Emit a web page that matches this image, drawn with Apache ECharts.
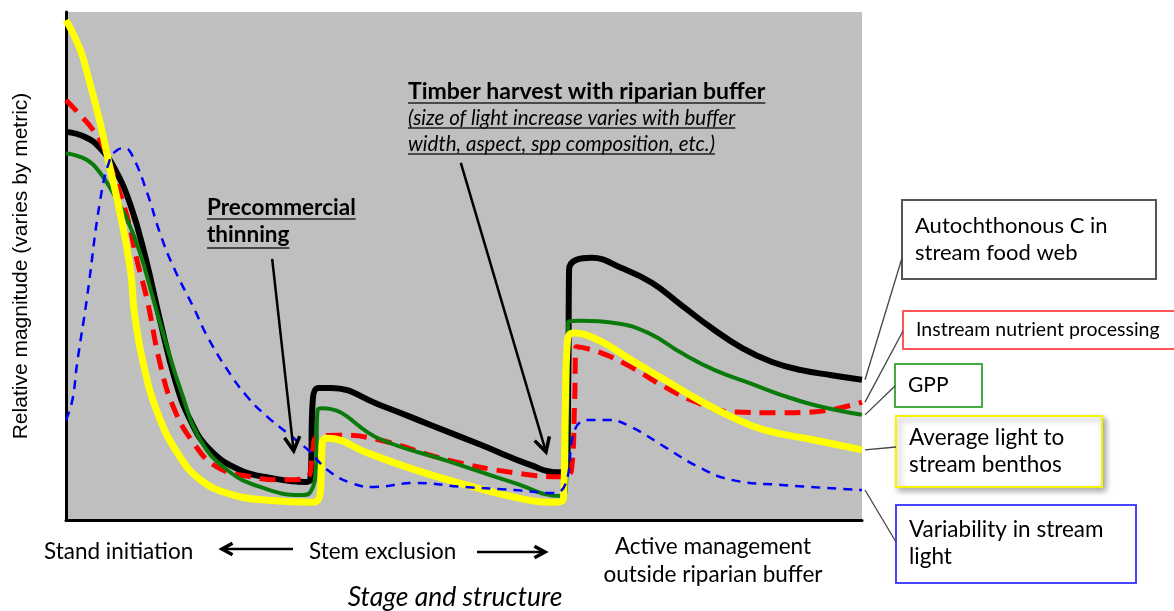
<!DOCTYPE html>
<html><head><meta charset="utf-8">
<script src="https://cdn.jsdelivr.net/npm/echarts@6/dist/echarts.min.js"></script>
<style>html,body{margin:0;padding:0;background:#fff}#c{width:1174px;height:611px}</style>
</head><body><div id="c"></div>
<script>
// ---- data (x: stage/time 0-100, y: relative magnitude 0-100) ----
const autoX = [0,2.4,4.3,6.2,8.1,9.9,11.8,13.7,15.6,18.1,21.9,25.7,30.1,30.7,31.0,31.7,33.2,39.5,45.8,52.1,58.4,61.6,62.8,63.1,63.2,64.1,66.0,69.8,73.6,77.3,81.1,84.9,88.7,92.4,96.2,100];
const autoY = [76.4,75.4,73.2,68.9,62.0,52.2,39.4,27.6,19.7,13.8,9.8,8.3,7.5,7.9,23.6,26.0,26.0,22.6,18.7,14.8,10.8,9.4,9.4,27.6,49.2,51.2,51.6,49.6,46.7,42.3,37.8,33.9,31.1,29.5,28.5,27.6];
const nutrX = [0,1.8,3.4,4.7,5.9,7.7,8.9,10.2,11.8,13.5,16.0,19.0,23.2,27.3,30.4,31.0,31.5,34.5,39.5,48.0,56.3,62.2,63.5,63.9,64.1,66.9,71.0,75.2,79.5,83.6,89.9,94.1,100];
const nutrY = [82.7,79.7,76.8,73.4,68.3,59.6,51.2,43.3,30.9,22.2,15.2,10.4,8.5,7.9,8.5,13.8,16.3,16.7,15.7,11.8,9.3,8.5,9.8,23.6,34.1,33.1,30.1,26.2,23.0,21.3,21.1,21.3,23.2];
const gppX = [0,2.6,4.3,5.9,7.7,9.3,11.0,12.7,14.4,16.9,20.3,24.4,29.5,30.7,31.4,31.6,32.2,39.5,48.0,56.3,62.2,62.8,63.0,63.1,64.7,68.9,73.2,77.3,81.5,85.8,89.9,94.1,100];
const gppY = [72.2,70.9,68.3,64.4,59.1,52.6,43.3,34.1,25.6,15.7,9.8,6.5,4.9,5.5,10.4,21.7,22.0,15.9,11.6,7.3,4.7,5.9,23.6,39.0,39.2,38.8,36.8,32.9,29.5,27.0,24.6,22.6,20.7];
const lightX = [0,1.8,3.0,4.3,5.5,6.8,8.1,8.6,9.7,11.5,14.0,16.9,21.0,25.3,31.1,32.0,32.1,32.2,32.8,37.9,42.1,48.0,56.3,61.3,62.5,62.7,63.0,63.7,66.9,71.0,75.2,79.5,83.6,87.8,94.1,100];
const lightY = [98.4,92.5,86.0,78.1,69.5,60.4,49.2,40.7,30.9,21.1,13.2,7.9,4.9,3.9,3.5,6.5,11.8,15.4,16.1,13.2,10.8,7.9,4.5,3.5,4.3,19.7,35.4,36.8,35.4,31.5,27.6,23.6,20.3,17.7,15.7,13.8];
const varX = [0,0.8,1.4,2.6,4.3,5.5,6.4,7.4,8.4,10.2,11.8,13.5,16.0,17.8,20.3,22.8,25.3,27.8,30.4,32.9,35.8,38.7,43.7,50.0,56.3,61.3,62.8,63.9,65.6,68.1,71.0,75.2,79.5,83.6,89.9,100];
const varY = [19.7,23.6,30.9,43.3,63.0,70.9,72.8,73.2,71.5,64.4,56.5,49.8,41.9,36.0,29.5,24.2,20.3,17.1,13.8,9.8,7.3,6.5,7.3,6.5,5.9,5.3,7.3,17.7,19.7,19.7,18.3,14.4,10.4,7.9,6.9,5.9];

const seriesNames = ['Autochthonous C in stream food web','Instream nutrient processing','GPP','Average light to stream benthos','Variability in stream light'];
const legendText = [['Autochthonous C in','stream food web'],['Instream nutrient processing'],['GPP'],['Average light to','stream benthos'],['Variability in stream','light']];
const stageLabels = ['Stand initiation','Stem exclusion','Active management','outside riparian buffer'];
const xTitle = 'Stage and structure';
const yTitle = 'Relative magnitude (varies by metric)';
const thinText = ['Precommercial','thinning'];
const harvestText = ['Timber harvest with riparian buffer','(size of light increase varies with buffer','width, aspect, spp composition, etc.)'];
// arrow anchors in data space [from, to]
const thinArrow = [[25.9,51.4],[28.6,13.6]];
const harvestArrow = [[49.6,70.3],[60.3,13.4]];

const zip = (xs, ys) => xs.map((x, i) => [x, ys[i]]);
const FONT = 'Lato';

const chart = echarts.init(document.getElementById('c'), null, {renderer: 'canvas'});
const mk = (name, xs, ys, color, width, type, z) => ({
  name, type: 'line', data: zip(xs, ys), showSymbol: false, symbol: 'none',
  smooth: 0.45, z,
  lineStyle: {color, width, type, cap: 'butt', join: 'round'}
});
chart.setOption({
  animation: false,
  grid: {left: 66, right: 312, top: 12, bottom: 91, show: true, backgroundColor: '#bfbfbf', borderWidth: 0,
    containLabel: false, outerBoundsMode: 'none'},
  xAxis: {type: 'value', min: 0, max: 100, axisLabel: {show: false}, axisTick: {show: false}, splitLine: {show: false},
    axisLine: {show: true, onZero: false, lineStyle: {color: '#000', width: 3}}},
  yAxis: {type: 'value', min: 0, max: 100, axisLabel: {show: false}, axisTick: {show: false}, splitLine: {show: false},
    axisLine: {show: true, onZero: false, lineStyle: {color: '#000', width: 3}},
    name: yTitle, nameLocation: 'middle', nameRotate: 90, nameGap: 34,
    nameTextStyle: {fontFamily: 'Liberation Sans', fontSize: 21, color: '#000'}},
  series: [
    mk(seriesNames[0], autoX, autoY, '#000000', 6, 'solid', 2),
    mk(seriesNames[1], nutrX, nutrY, '#ff0000', 5, [16, 9], 3),
    mk(seriesNames[2], gppX, gppY, '#0a7a0a', 4, 'solid', 4),
    mk(seriesNames[3], lightX, lightY, '#ffff00', 7, 'solid', 5),
    mk(seriesNames[4], varX, varY, '#0000ff', 2.5, [9, 7], 6)
  ]
});

const ctx = document.createElement('canvas').getContext('2d');
function tw(text, font) { ctx.font = font; return ctx.measureText(text).width; }
const P = (pt) => chart.convertToPixel({gridIndex: 0}, pt);

const g = [];
function text(t, x, y, size, opts = {}) {
  const weight = opts.bold ? 'bold' : 'normal';
  const style = opts.italic ? 'italic' : 'normal';
  const fam = opts.family || FONT;
  g.push({type: 'text', x, y, z: 100, style: {text: t, fill: '#000', fontFamily: fam, fontSize: size, fontWeight: weight, fontStyle: style,
    align: opts.align || 'left', verticalAlign: 'middle'}});
  if (opts.underline) {
    const w = tw(t, `${style} ${weight} ${size}px ${fam}`);
    const x0 = opts.align === 'center' ? x - w / 2 : x;
    g.push({type: 'line', z: 100, shape: {x1: x0, y1: y + opts.underline, x2: x0 + w, y2: y + opts.underline}, style: {stroke: '#222', lineWidth: 1.4}});
  }
}
function arrow(x1, y1, x2, y2, head, width) {
  const a = Math.atan2(y2 - y1, x2 - x1);
  const b1 = [x2 - head * Math.cos(a - 0.5), y2 - head * Math.sin(a - 0.5)];
  const b2 = [x2 - head * Math.cos(a + 0.5), y2 - head * Math.sin(a + 0.5)];
  g.push({type: 'line', z: 100, shape: {x1, y1, x2, y2}, style: {stroke: '#000', lineWidth: width}});
  g.push({type: 'polyline', z: 100, shape: {points: [b1, [x2, y2], b2]}, style: {stroke: '#000', lineWidth: width + 1, fill: null, lineJoin: 'miter'}});
}

// annotations in plot
text(thinText[0], 207, 208, 22.5, {bold: true, underline: 11});
text(thinText[1], 207, 235, 22.5, {bold: true, underline: 13});
text(harvestText[0], 408, 92, 23, {bold: true, underline: 11});
text(harvestText[1], 408, 118, 20.5, {italic: true, underline: 10});
text(harvestText[2], 408, 144, 20.5, {italic: true, underline: 10});
let a0 = P(thinArrow[0]), a1 = P(thinArrow[1]);
arrow(a0[0], a0[1], a1[0], a1[1], 16, 2.5);
a0 = P(harvestArrow[0]); a1 = P(harvestArrow[1]);
arrow(a0[0], a0[1], a1[0], a1[1], 16, 2.5);

// bottom stage labels
text(stageLabels[0], 44, 552, 22.5);
arrow(293, 549, 222, 549, 12, 2.5);
text(stageLabels[1], 309, 552, 22.5);
arrow(477, 552, 545, 552, 12, 2.5);
text(stageLabels[2], 713, 547, 22.5, {align: 'center'});
text(stageLabels[3], 713, 575, 22.5, {align: 'center'});
text(xTitle, 455, 597, 26.5, {italic: true, align: 'center'});

// legend boxes
const boxes = [
  {x: 902, y: 200, w: 254, h: 79, stroke: '#555555', ly: 258, size: 22},
  {x: 903, y: 311, w: 280, h: 38, stroke: '#ff5555', ly: 331, size: 19.5},
  {x: 895, y: 364, w: 87, h: 43, stroke: '#44aa44', ly: 386, size: 21},
  {x: 896, y: 416, w: 206, h: 71, stroke: '#f4f400', ly: 447, size: 22.5, shadow: true},
  {x: 896, y: 505, w: 240, h: 78, stroke: '#4444ff', ly: 542, size: 22.5}
];
const ends = [autoX, nutrX, gppX, lightX, varX].map((xs, i) => {
  const ys = [autoY, nutrY, gppY, lightY, varY][i];
  return P([xs[xs.length - 1], ys[ys.length - 1]]);
});
boxes.forEach((b, i) => {
  g.push({type: 'rect', z: 90, shape: {x: b.x, y: b.y, width: b.w, height: b.h},
    style: {fill: '#fff', stroke: b.stroke, lineWidth: 2,
      shadowBlur: b.shadow ? 6 : 0, shadowOffsetX: b.shadow ? 3 : 0, shadowOffsetY: b.shadow ? 3 : 0, shadowColor: 'rgba(0,0,0,0.35)'}});
  const lines = legendText[i];
  if (lines.length === 2) {
    text(lines[0], b.x + 13, b.y + b.h / 2 - 14, b.size);
    text(lines[1], b.x + 13, b.y + b.h / 2 + 13, b.size);
  } else {
    text(lines[0], b.x + 13, b.y + b.h / 2, b.size);
  }
  g.push({type: 'line', z: 95, shape: {x1: ends[i][0] + 3, y1: ends[i][1], x2: b.x, y2: b.ly}, style: {stroke: '#444', lineWidth: 1.3}});
});

chart.setOption({graphic: {elements: g}});
</script></body></html>
